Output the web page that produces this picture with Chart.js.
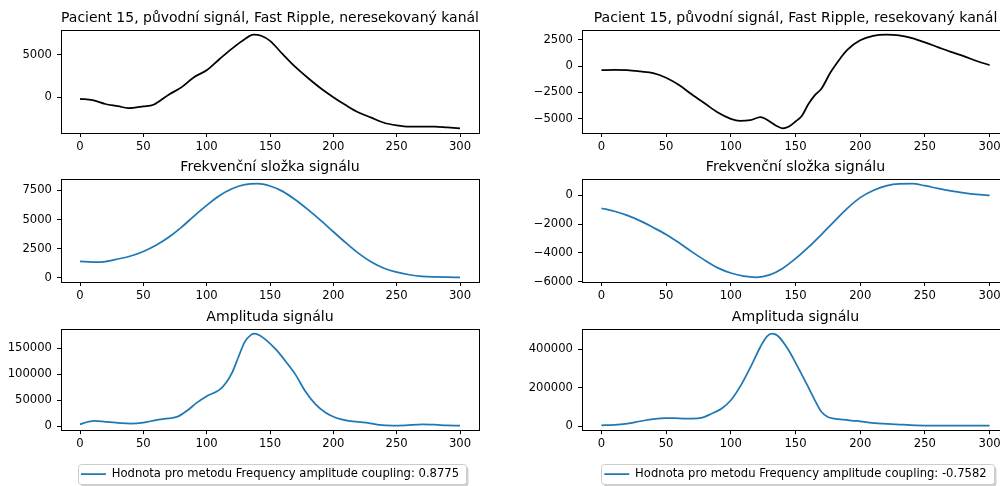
<!DOCTYPE html>
<html>
<head>
<meta charset="utf-8">
<script src="https://cdn.jsdelivr.net/npm/chart.js@4.4.0/dist/chart.umd.min.js"></script>
<style>
  html, body { margin: 0; padding: 0; background: #fff; overflow: hidden; }
  #fig { position: relative; width: 1000px; height: 486px; overflow: hidden; }
  canvas { position: absolute; }
</style>
</head>
<body>
<div id="fig">
  <canvas id="origLeft" width="500" height="145" style="left:0px;top:8px"></canvas>
  <canvas id="origRight" width="509" height="145" style="left:521px;top:8px"></canvas>
  <canvas id="freqLeft" width="500" height="145" style="left:0px;top:157px"></canvas>
  <canvas id="freqRight" width="509" height="145" style="left:521px;top:157px"></canvas>
  <canvas id="ampLeft" width="500" height="183" style="left:0px;top:307px"></canvas>
  <canvas id="ampRight" width="509" height="183" style="left:521px;top:307px"></canvas>
</div>
<script>
// values
const xTicks = [0, 50, 100, 150, 200, 250, 300];

const origLeftX = [0, 10, 20, 30, 38, 50, 58, 70, 80, 90, 100, 110, 120, 130, 137, 143, 150, 160, 170, 180, 190, 200, 210, 220, 230, 240, 250, 260, 270, 280, 290, 300];
const origLeftY = [-200, -350, -800, -1050, -1280, -1080, -880, 300, 1150, 2350, 3150, 4450, 5700, 6800, 7330, 7200, 6600, 5050, 3550, 2250, 1050, 0, -950, -1800, -2400, -3000, -3300, -3450, -3450, -3450, -3550, -3650];
const origLeftTicks = [0, 5000];

const origRightX = [0, 10, 20, 30, 40, 50, 60, 70, 80, 90, 100, 107, 115, 123, 130, 135, 140, 145, 150, 155, 160, 165, 170, 177, 185, 190, 200, 210, 220, 230, 240, 250, 260, 270, 280, 290, 300];
const origRightY = [-385, -360, -390, -510, -660, -1100, -1800, -2700, -3550, -4400, -5000, -5200, -5130, -4850, -5250, -5650, -5900, -5720, -5250, -4700, -3600, -2750, -2150, -610, 800, 1550, 2450, 2870, 2980, 2920, 2650, 2250, 1800, 1350, 950, 480, 100];
const origRightTicks = [-5000, -2500, 0, 2500];

const freqX = [0, 10, 20, 30, 40, 50, 60, 70, 80, 90, 100, 110, 120, 130, 140, 150, 160, 170, 180, 190, 200, 210, 220, 230, 240, 250, 260, 270, 280, 290, 300];
const freqLeftY = [1410, 1355, 1400, 1620, 1880, 2270, 2800, 3480, 4330, 5300, 6220, 7050, 7650, 8000, 8080, 7880, 7420, 6700, 5850, 4930, 3960, 3000, 2100, 1360, 830, 490, 270, 130, 80, 60, 50];
const freqLeftTicks = [0, 2500, 5000, 7500];
const freqRightY = [-890, -1100, -1390, -1770, -2230, -2720, -3300, -3930, -4520, -5040, -5400, -5620, -5700, -5530, -5080, -4400, -3600, -2720, -1800, -900, -150, 350, 670, 810, 820, 680, 490, 320, 180, 70, 0];
const freqRightTicks = [-6000, -4000, -2000, 0];

const ampLeftX = [0, 7, 12, 20, 30, 40, 50, 60, 70, 77, 85, 92, 100, 110, 115, 120, 125, 130, 135, 138, 142, 147, 155, 163, 170, 178, 186, 194, 202, 212, 226, 236, 247, 257, 270, 280, 290, 300];
const ampLeftY = [3800, 8900, 10200, 8500, 6600, 5200, 7000, 12000, 15200, 18500, 31000, 45000, 58000, 70000, 83000, 103000, 133000, 162000, 176000, 178500, 175000, 166000, 147000, 123000, 100000, 67000, 42000, 26000, 16500, 10500, 7000, 2800, 1300, 1900, 3800, 3000, 1800, 1300];
const ampLeftTicks = [0, 50000, 100000, 150000];

const ampRightX = [0, 10, 20, 30, 40, 50, 60, 70, 78, 85, 93, 100, 108, 116, 123, 128, 132, 136, 144, 151, 159, 165, 170, 175, 180, 187, 197, 207, 218, 228, 243, 258, 280, 300];
const ampRightY = [5100, 7000, 14000, 26000, 37600, 42700, 41000, 39300, 44400, 65000, 92000, 135000, 215000, 318000, 415000, 468000, 482000, 472000, 403000, 318000, 215000, 135000, 75000, 48000, 39500, 34000, 27400, 19000, 13700, 10300, 5100, 3400, 3400, 3400];
const ampRightTicks = [0, 200000, 400000];

const couplingLeft = '0.8775';
const couplingRight = '-0.7582';

Chart.defaults.font.family = "'DejaVu Sans', sans-serif";
Chart.defaults.color = '#000';

// black box around the plot area, like matplotlib spines
const spines = {
  id: 'spines',
  afterDraw(chart) {
    const a = chart.chartArea, ctx = chart.ctx;
    ctx.save();
    ctx.strokeStyle = '#000';
    ctx.lineWidth = 1;
    ctx.strokeRect(Math.floor(a.left) + 0.5, Math.floor(a.top) + 0.5,
      Math.round(a.right - a.left), Math.round(a.bottom - a.top));
    ctx.restore();
  }
};

// rounded frame with a shadow behind the legend item
const legendFrame = {
  id: 'legendFrame',
  beforeDraw(chart) {
    const lg = chart.legend;
    if (!lg || !chart.options.plugins.legend.display || !lg.legendHitBoxes.length) return;
    const hb = lg.legendHitBoxes[0];
    const cy = hb.top + hb.height / 2;
    const x0 = Math.round(hb.left - 3) + 0.5, x1 = Math.round(hb.left + hb.width + 7) + 0.5;
    const y0 = Math.round(cy - 10) + 0.5, y1 = Math.round(cy + 10) + 0.5;
    const ctx = chart.ctx;
    ctx.save();
    ctx.fillStyle = 'rgba(0,0,0,0.18)';
    ctx.beginPath();
    ctx.roundRect(x0 + 2, y0 + 2, x1 - x0, y1 - y0, 3);
    ctx.fill();
    ctx.fillStyle = '#fff';
    ctx.strokeStyle = '#cccccc';
    ctx.lineWidth = 1;
    ctx.beginPath();
    ctx.roundRect(x0, y0, x1 - x0, y1 - y0, 3);
    ctx.fill();
    ctx.stroke();
    ctx.restore();
  }
};

function fmt(v) {
  return v < 0 ? '\u2212' + Math.abs(v) : String(v);
}

function plot(id, title, xs, ys, yTicks, color, legendText) {
  const lo = Math.min(...ys), hi = Math.max(...ys);
  const m = (hi - lo) * 0.05;
  const tickFont = { size: 11.6 };
  const grid = { drawOnChartArea: false, tickLength: 4, color: '#000', tickWidth: 1 };
  return new Chart(document.getElementById(id), {
    type: 'line',
    data: {
      datasets: [{
        label: legendText || '',
        data: xs.map((x, i) => ({ x: x, y: ys[i] })),
        borderColor: color,
        backgroundColor: color,
        borderWidth: 1.75,
        pointRadius: 0,
        fill: false,
        cubicInterpolationMode: 'monotone'
      }]
    },
    options: {
      responsive: false,
      animation: false,
      events: [],
      layout: { padding: { left: 0, right: 21, top: 0, bottom: 0 } },
      scales: {
        x: {
          type: 'linear',
          min: -15,
          max: 315,
          afterBuildTicks: s => { s.ticks = xTicks.map(v => ({ value: v })); },
          afterFit: s => { s.height = 20; },
          ticks: { font: tickFont, padding: 3, maxRotation: 0, callback: fmt },
          grid: grid,
          border: { display: false }
        },
        y: {
          min: lo - m,
          max: hi + m,
          afterBuildTicks: s => { s.ticks = yTicks.map(v => ({ value: v })); },
          afterFit: s => { s.width = 61; },
          ticks: { font: tickFont, padding: 5, callback: fmt },
          grid: grid,
          border: { display: false }
        }
      },
      plugins: {
        title: {
          display: true,
          fullSize: false,
          text: title,
          color: '#000',
          font: { size: 14.1, weight: 'normal', lineHeight: '16px' },
          padding: { top: 2, bottom: 4 }
        },
        legend: {
          display: !!legendText,
          position: 'bottom',
          fullSize: false,
          labels: {
            usePointStyle: true,
            pointStyle: 'line',
            pointStyleWidth: 25,
            padding: 18.2,
            color: '#000',
            font: { size: 11.6 }
          }
        },
        tooltip: { enabled: false }
      }
    },
    plugins: [spines, legendFrame]
  });
}

const black = '#000000';
const blue = '#1f77b4';

plot('origLeft', 'Pacient 15, původní signál, Fast Ripple, neresekovaný kanál', origLeftX, origLeftY, origLeftTicks, black);
plot('origRight', 'Pacient 15, původní signál, Fast Ripple, resekovaný kanál', origRightX, origRightY, origRightTicks, black);
plot('freqLeft', 'Frekvenční složka signálu', freqX, freqLeftY, freqLeftTicks, blue);
plot('freqRight', 'Frekvenční složka signálu', freqX, freqRightY, freqRightTicks, blue);
plot('ampLeft', 'Amplituda signálu', ampLeftX, ampLeftY, ampLeftTicks, blue,
  'Hodnota pro metodu Frequency amplitude coupling: ' + couplingLeft);
plot('ampRight', 'Amplituda signálu', ampRightX, ampRightY, ampRightTicks, blue,
  'Hodnota pro metodu Frequency amplitude coupling: ' + couplingRight);
</script>
</body>
</html>
